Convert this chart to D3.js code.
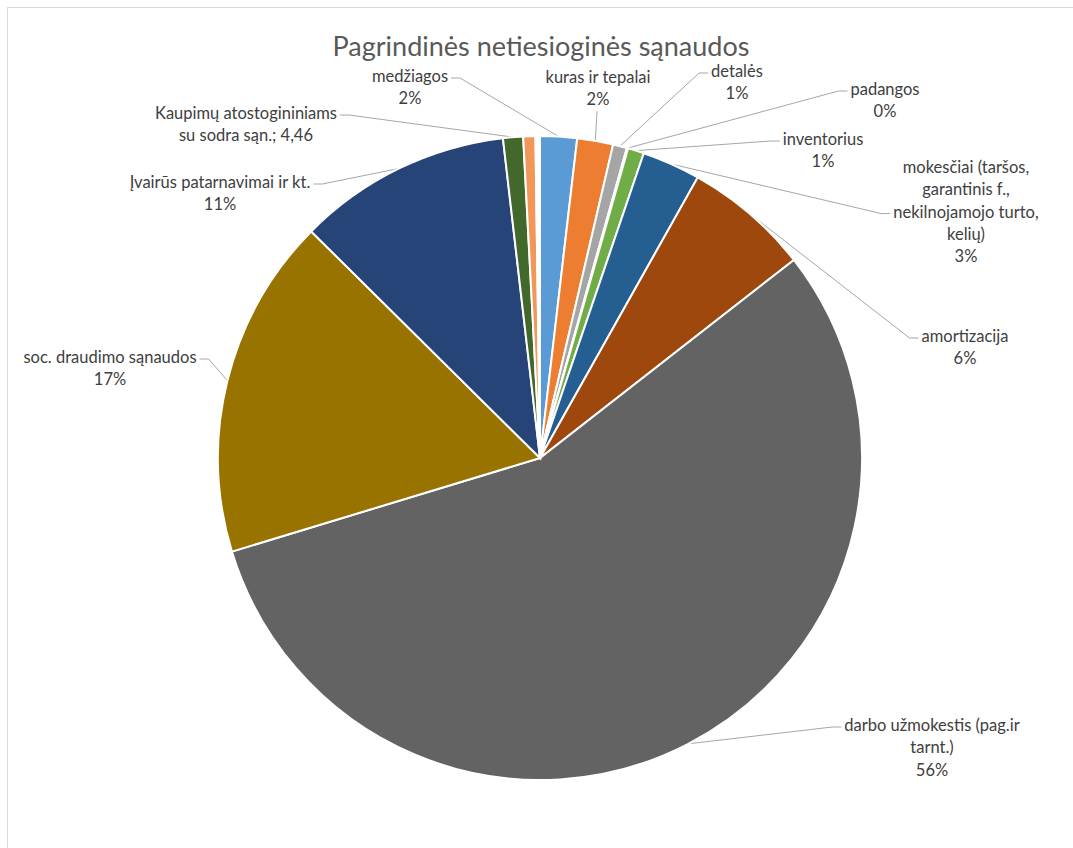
<!DOCTYPE html>
<html><head><meta charset="utf-8">
<script src="https://cdn.jsdelivr.net/npm/d3@7"></script>
<style>body{margin:0;background:#fff}svg{display:block}</style>
</head><body>
<svg id="c" width="1073" height="848"></svg>
<script>
// ---- data ----
const categories = ["medžiagos","kuras ir tepalai","detalės","padangos","inventorius",
  "mokesčiai (taršos, garantinis f., nekilnojamojo turto, kelių)","amortizacija",
  "darbo užmokestis (pag.ir tarnt.)","soc. draudimo sąnaudos","Įvairūs patarnavimai ir kt.",
  "Kaupimų atostogininiams su sodra sąn.","kita","tuščia"];
const values = [8.2, 8.0, 3.1, 0.3, 3.6, 13.0, 28.0, 248.0, 76.0, 47.7, 4.46, 2.7, 1.0];
const colors = ["#5B9BD5","#ED7D31","#A5A5A5","#FFC000","#70AD47","#255E91","#9E480E",
  "#636363","#997300","#264478","#43682B","#F1975A","#ffffff"];
const labelLines = [
  ["medžiagos","2%"],["kuras ir tepalai","2%"],["detalės","1%"],["padangos","0%"],
  ["inventorius","1%"],["mokesčiai (taršos,","garantinis f.,","nekilnojamojo turto,","kelių)","3%"],
  ["amortizacija","6%"],["darbo užmokestis (pag.ir","tarnt.)","56%"],["soc. draudimo sąnaudos","17%"],
  ["Įvairūs patarnavimai ir kt.","11%"],["Kaupimų atostogininiams","su sodra sąn.; 4,46"],null,null];
const title = "Pagrindinės netiesioginės sąnaudos";

// ---- layout (label placement) ----
const labelPos = [
  {x:410,y:76,side:"right",line:0},{x:598,y:77,side:"bottom",line:1},{x:737,y:71,side:"left",line:0},
  {x:885,y:89,side:"left",line:0},{x:823,y:139,side:"left",line:0},{x:966,y:167,side:"left",line:2},
  {x:965,y:336,side:"left",line:0},{x:932,y:725,side:"left",line:0},{x:110,y:357,side:"right",line:0},
  {x:220,y:182,side:"right",line:0},{x:246,y:113,side:"right",line:0},null,null];

const svg = d3.select("#c");
svg.append("rect").attr("x",7.5).attr("y",7.5).attr("width",1080).attr("height",860)
  .attr("fill","#fff").attr("stroke","#d9d9d9");
svg.append("text").attr("x",541).attr("y",56).attr("text-anchor","middle")
  .attr("font-family","Lato, 'Open Sans', sans-serif").attr("font-size",27)
  .attr("fill","#595959").text(title);

const cx=540, cy=458, R=322;
const g = svg.append("g").attr("transform",`translate(${cx},${cy})`);
const pie = d3.pie().sort(null).value(d=>d)(values);
const arc = d3.arc().innerRadius(0).outerRadius(R);
g.selectAll("path.s").data(pie).join("path").attr("class","s")
  .attr("d",arc).attr("fill",(d,i)=>colors[i]).attr("stroke","#fff").attr("stroke-width",2);

const lh = 22.3;
pie.forEach((d,i)=>{
  const lines = labelLines[i], p = labelPos[i];
  if(!lines) return;
  const t = svg.append("text").attr("font-family","Lato, 'Open Sans', sans-serif")
    .attr("font-size",16.5).attr("fill","#404040").attr("text-anchor","middle");
  lines.forEach((s,k)=>t.append("tspan").attr("x",p.x).attr("y",p.y+k*lh+6).text(s));
  const tsp = t.selectAll("tspan").nodes()[p.line];
  const bb = tsp.getBBox();
  const a = (d.startAngle+d.endAngle)/2;
  const px = cx + Math.sin(a)*R, py = cy - Math.cos(a)*R;
  let path;
  if(p.side==="right"){
    const ax = bb.x+bb.width+3, ay = p.y+p.line*lh+2;
    path = `M${ax},${ay}H${ax+9}L${px},${py}`;
  } else if(p.side==="left"){
    const ax = bb.x-3, ay = p.y+p.line*lh+2;
    path = `M${ax},${ay}H${ax-9}L${px},${py}`;
  } else {
    const ay = bb.y+bb.height+2;
    path = `M${p.x-1},${ay}L${px},${py}`;
  }
  svg.insert("path","text").attr("d",path).attr("fill","none").attr("stroke","#a6a6a6").attr("stroke-width",1);
});
</script>
</body></html>
